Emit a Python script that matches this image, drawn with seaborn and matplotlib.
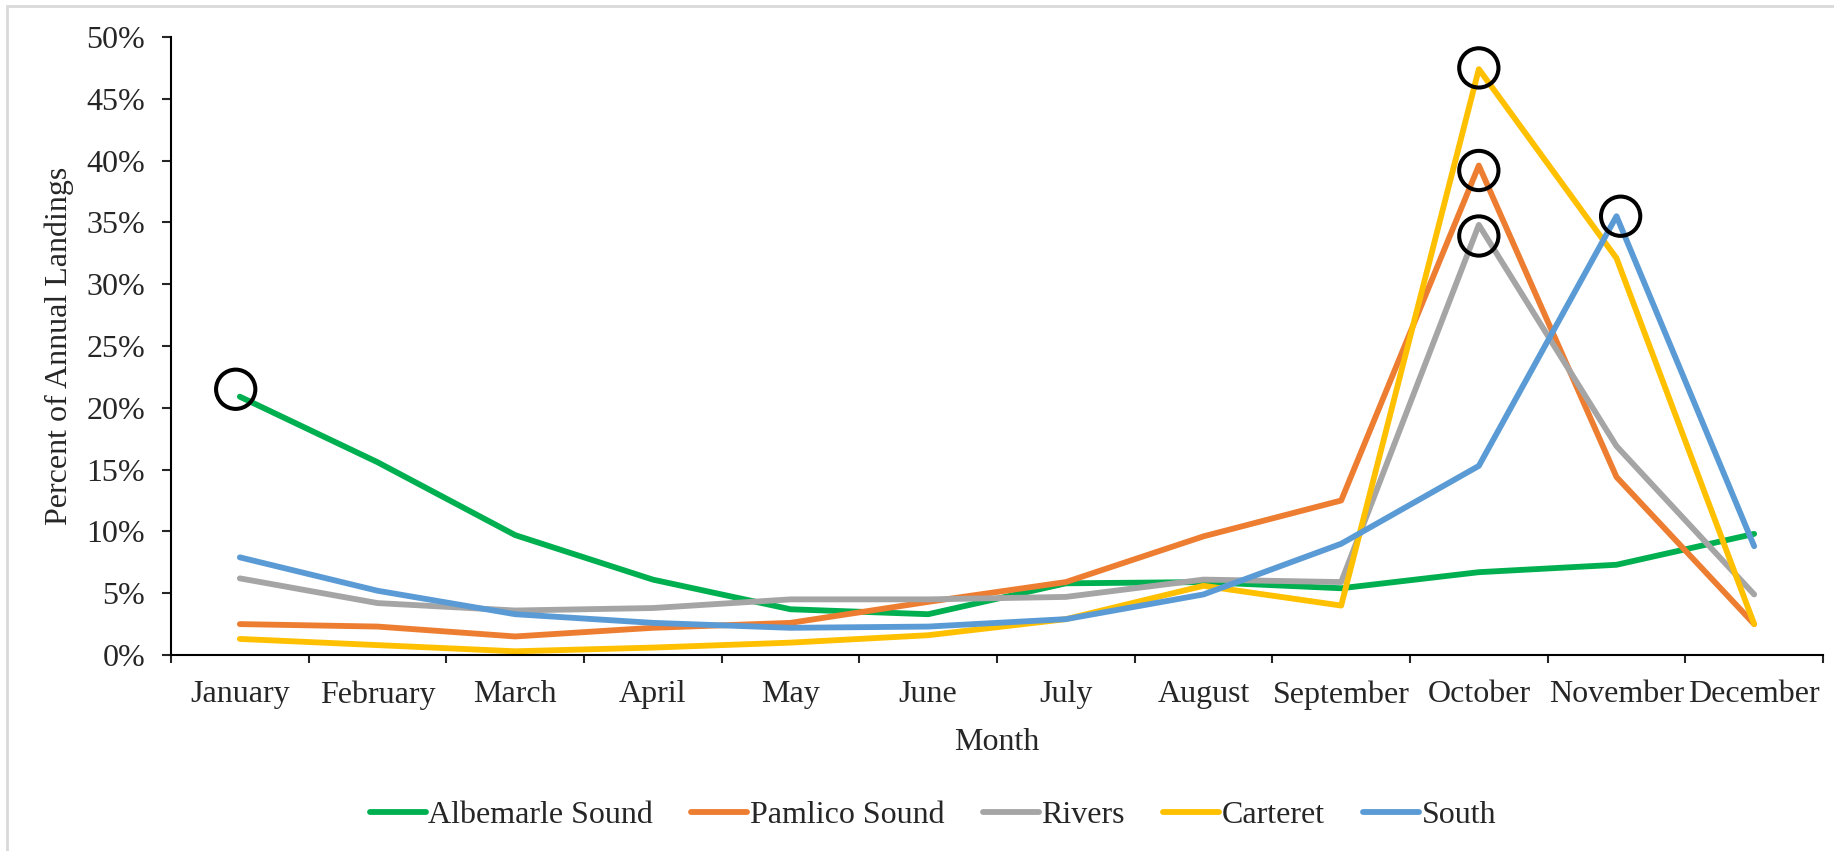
import numpy as np
import pandas as pd
import seaborn as sns
import matplotlib.pyplot as plt
from matplotlib.patches import Rectangle
from matplotlib.ticker import FixedLocator, NullFormatter, FixedFormatter

sns.set_style("ticks")
plt.rcParams['font.family'] = ['Liberation Serif', 'DejaVu Serif']

# data (percent of annual landings)
months = ["January", "February", "March", "April", "May", "June", "July",
          "August", "September", "October", "November", "December"]
albemarle = [20.9, 15.6, 9.7, 6.1, 3.7, 3.3, 5.8, 5.9, 5.4, 6.7, 7.3, 9.8]
pamlico = [2.5, 2.3, 1.5, 2.2, 2.6, 4.3, 5.9, 9.6, 12.5, 39.6, 14.4, 2.5]
rivers = [6.2, 4.2, 3.6, 3.8, 4.5, 4.5, 4.7, 6.1, 5.9, 34.8, 16.9, 4.9]
carteret = [1.3, 0.8, 0.3, 0.6, 1.0, 1.6, 2.9, 5.6, 4.0, 47.4, 32.1, 2.5]
south = [7.9, 5.2, 3.3, 2.6, 2.2, 2.3, 2.9, 4.9, 9.0, 15.3, 35.5, 8.8]

regions = ["Albemarle Sound", "Pamlico Sound", "Rivers", "Carteret", "South"]
colors = ["#00B050", "#ED7D31", "#A5A5A5", "#FFC000", "#5B9BD5"]

# highlighted peaks (month index, percent)
circle_x = [-0.03, 9.0, 9.0, 9.0, 10.03]
circle_y = [21.5, 47.5, 39.2, 33.9, 35.5]

yticks = list(range(0, 51, 5))
ytick_labels = [f"{v}%" for v in yticks]

df = pd.DataFrame({
    "month": list(range(12)) * 5,
    "pct": albemarle + pamlico + rivers + carteret + south,
    "region": np.repeat(regions, 12),
})

fig = plt.figure(figsize=(18.34, 8.51), dpi=100)
ax = fig.add_axes([171 / 1834, 196 / 851, (1823 - 171) / 1834, 618 / 851])

sns.lineplot(data=df, x="month", y="pct", hue="region", hue_order=regions,
             palette=dict(zip(regions, colors)), linewidth=4.2, sort=False,
             legend=False, ax=ax)
for ln in ax.get_lines():
    ln.set_solid_capstyle("round")

ax.scatter(circle_x, circle_y, s=800, facecolors="none", edgecolors="black",
           linewidths=2.9, zorder=5, clip_on=False)

ax.set_xlim(-0.5, 11.5)
ax.set_ylim(0, 50)

# x axis: ticks at category boundaries, labels in the middle
ax.xaxis.set_major_locator(FixedLocator(np.arange(-0.5, 12, 1)))
ax.xaxis.set_major_formatter(NullFormatter())
ax.xaxis.set_minor_locator(FixedLocator(np.arange(12)))
ax.xaxis.set_minor_formatter(FixedFormatter(months))
ax.tick_params(axis="x", which="major", direction="out", length=6, width=1.5)
ax.tick_params(axis="x", which="minor", length=0, pad=18, labelsize=23)

ax.set_yticks(yticks)
ax.set_yticklabels(ytick_labels)
ax.tick_params(axis="y", direction="out", length=6.5, width=1.5, pad=12,
               labelsize=23)

for s in ["left", "bottom"]:
    ax.spines[s].set_linewidth(1.5)
    ax.spines[s].set_color("black")
sns.despine(ax=ax)

ax.set_xlabel("Month", fontsize=23)
ax.set_ylabel("Percent of Annual Landings", fontsize=23)
ax.xaxis.set_label_coords(0.5, (655 - 742) / 618)
ax.xaxis.label.set_va("center")
ax.yaxis.set_label_coords((59 - 171) / 1652, 0.5)
ax.yaxis.label.set_va("center")

handles = ax.get_lines()[:5]
fig.legend(handles, regions, loc="center", bbox_to_anchor=(933 / 1834, 1 - 815 / 851),
           ncol=5, frameon=False, fontsize=23, handlelength=1.75,
           handletextpad=0.08, columnspacing=1.2)

# light outer frame of the chart area
fig.patches.append(Rectangle((7 / 1834, -0.05), 1.2, 1 - 6 / 851 + 0.05,
                             transform=fig.transFigure, fill=False,
                             edgecolor="#D9D9D9", linewidth=2))

fig.savefig("out.png", dpi=100)
